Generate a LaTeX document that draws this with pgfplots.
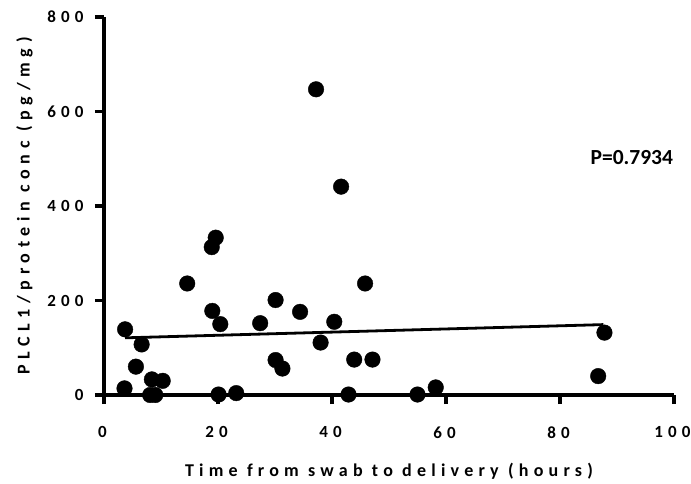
\documentclass[border=0pt]{standalone}
\usepackage{fontspec}
\setmainfont{Carlito}
\newfontfamily\spaced{Carlito Bold}[LetterSpace=29]
\newfontfamily\yspaced{Carlito Bold}[LetterSpace=31]
\newfontfamily\tspaced{Carlito Bold}[LetterSpace=30]
\newfontfamily\bcar{Carlito Bold}
\usepackage{pgfplots}
\pgfplotsset{compat=1.18}
\begin{document}
\begin{tikzpicture}
\begin{axis}[
  scale only axis, width=570pt, height=378pt,
  xmin=0, xmax=100, ymin=0, ymax=800,
  axis x line*=bottom, axis y line*=left,
  axis line style={line width=3.4pt, black, -},
  tick style={line width=3.4pt, black},
  tick align=outside, major tick length=9pt,
  xtick={0,20,...,100}, ytick={0,200,...,800},
  /pgf/number format/assume math mode=true,
  ticklabel style={font=\fontsize{17}{20}\tspaced},
  xticklabel style={yshift=-19pt, xshift=-1.5pt},
  yticklabel style={xshift=-8pt},
  xlabel={Time from swab to delivery (hours)},
  ylabel={PLCL1/protein conc (pg/mg)},
  xlabel style={font=\fontsize{18}{21}\spaced, yshift=-18pt},
  ylabel style={font=\fontsize{18}{21}\yspaced, yshift=8pt},
  clip=false,
]
\addplot[only marks, mark=*, mark size=7.8pt, black] coordinates {
(3.7,139) (6.6,107) (5.6,60) (3.6,14) (8.4,33) (10.3,30) (8.1,0) (9.0,0)
(14.6,236) (18.9,313) (19.6,333) (19.0,178) (20.4,150) (20.1,1) (23.2,4)
(27.4,152) (30.1,201) (30.1,74) (31.3,56) (34.4,176) (37.2,647) (38.0,111)
(40.4,155) (41.6,441) (42.9,1) (43.9,75) (45.8,236) (47.1,75)
(55.0,1) (58.2,16) (86.7,40) (87.8,132)
};
\addplot[black, line width=2.8pt] coordinates {(3.7,121) (87.6,149)};
\node[font=\fontsize{21.5}{25}\bcar] at (axis cs:92.6,502) {P=0.7934};
\end{axis}
\pgfresetboundingbox
\path (current axis.south west) ++(-104pt,-88pt) rectangle ++(691pt,483pt);
\end{tikzpicture}
\end{document}
